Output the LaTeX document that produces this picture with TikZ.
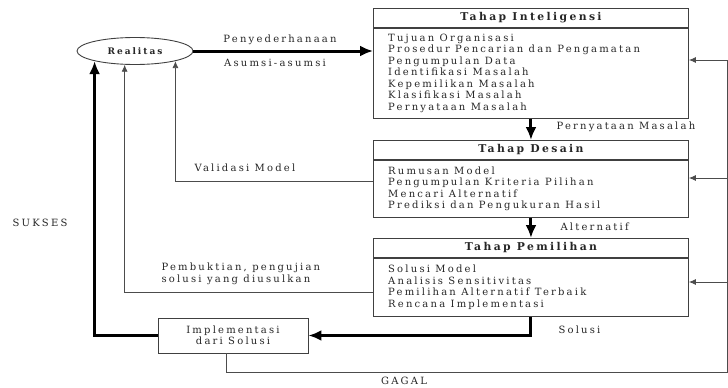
\documentclass[tikz,border=0pt]{standalone}
\usepackage{fontspec}
\setmainfont[LetterSpace=22]{DejaVu Serif}
\usetikzlibrary{arrows.meta,shapes.geometric}
\begin{document}
\begin{tikzpicture}[x=1pt,y=-1pt,
    txt/.style={font=\fontsize{10}{11.5}\selectfont, text=black!85},
    hdr/.style={draw=black!75, line width=0.9pt, minimum width=315pt, minimum height=19pt, inner sep=0pt, anchor=north west, text=black!85, font=\fontsize{10.8}{12}\selectfont\bfseries},
    body/.style={draw=black!75, line width=0.9pt, minimum width=315pt, inner sep=0pt, anchor=north},
    list/.style={txt, align=left, inner sep=0pt, anchor=west},
    thk/.style={line width=3pt, -{Latex[length=13pt,width=11pt]}},
    thn/.style={line width=0.8pt, draw=black!70, -{Latex[length=7pt,width=6pt]}},
    rail/.style={line width=0.8pt, draw=black!70}]
    \useasboundingbox (0,0) rectangle (728,388);

    \node[ellipse, draw=black!75, line width=0.9pt, minimum width=116pt, minimum height=27pt, inner sep=0pt, text=black!85, font=\fontsize{9}{11}\selectfont\bfseries] (real) at (135,51) {Realitas};

    \node[hdr] (intelT) at (373,8) {Tahap Inteligensi};
    \node[body, minimum height=90pt] (intelB) at (intelT.south) {};
    \node[list] (intelL) at ([xshift=15pt]intelB.west) {Tujuan Organisasi\\ Prosedur Pencarian dan Pengamatan\\ Pengumpulan Data\\ Identifikasi Masalah\\ Kepemilikan Masalah\\ Klasifikasi Masalah\\ Pernyataan Masalah};
    \node[hdr] (desT) at (373,140) {Tahap Desain};
    \node[body, minimum height=57pt] (desB) at (desT.south) {};
    \node[list] (desL) at ([xshift=15pt]desB.west) {Rumusan Model\\ Pengumpulan Kriteria Pilihan\\ Mencari Alternatif\\ Prediksi dan Pengukuran Hasil};
    \node[hdr] (pilT) at (373,238) {Tahap Pemilihan};
    \node[body, minimum height=58pt] (pilB) at (pilT.south) {};
    \node[list] (pilL) at ([xshift=15pt]pilB.west) {Solusi Model\\ Analisis Sensitivitas\\ Pemilihan Alternatif Terbaik\\ Rencana Implementasi};
    \node[draw=black!75, line width=0.9pt, minimum width=150pt, minimum height=35pt, inner sep=0pt, align=center, txt] (impl) at (233,335.5) {Implementasi\\ dari Solusi};

    \node[txt] (lpeny) at (280,40) {Penyederhanaan};
    \node[txt] (lasum) at (275,63) {Asumsi-asumsi};
    \node[txt, anchor=west] (lpern) at (553,127) {Pernyataan Masalah};
    \node[txt, anchor=west] (lalt) at (557,227) {Alternatif};
    \node[txt, anchor=west] (lsol) at (555,330) {Solusi};
    \node[txt, anchor=west] (lval) at (191,168) {Validasi Model};
    \node[txt, anchor=west, align=left] (lbukti) at (158,274) {Pembuktian, pengujian\\ solusi yang diusulkan};
    \node[txt] (lsukses) at (40,223) {SUKSES};
    \node[txt] (lgagal) at (404,381) {GAGAL};

    \draw[thk] (real) -- (real -| intelB.west);
    \draw[thk] (intelB) -- (desT);
    \draw[thk] (desB) -- (pilT);
    \draw[thk] (pilB.south) |- (impl.east);
    \draw[thk] (impl.west) -| (real.194);

    \draw[thn] ([yshift=7.5pt]desB.west) -| (real.346);
    \draw[thn] ([yshift=-5pt]pilB.west) -| (real.233);

    \coordinate (gg) at (727,372);
    \coordinate (r1) at (727,60);
    \coordinate (r2) at (727,178);
    \coordinate (r3) at (727,282);
    \draw[rail] ([xshift=-7pt]impl.south) |- (gg) -- (r1);
    \draw[thn] (r1) -- (r1 -| intelB.east);
    \draw[thn] (r2) -- (r2 -| desB.east);
    \draw[thn] (r3) -- (r3 -| pilB.east);
\end{tikzpicture}
\end{document}
